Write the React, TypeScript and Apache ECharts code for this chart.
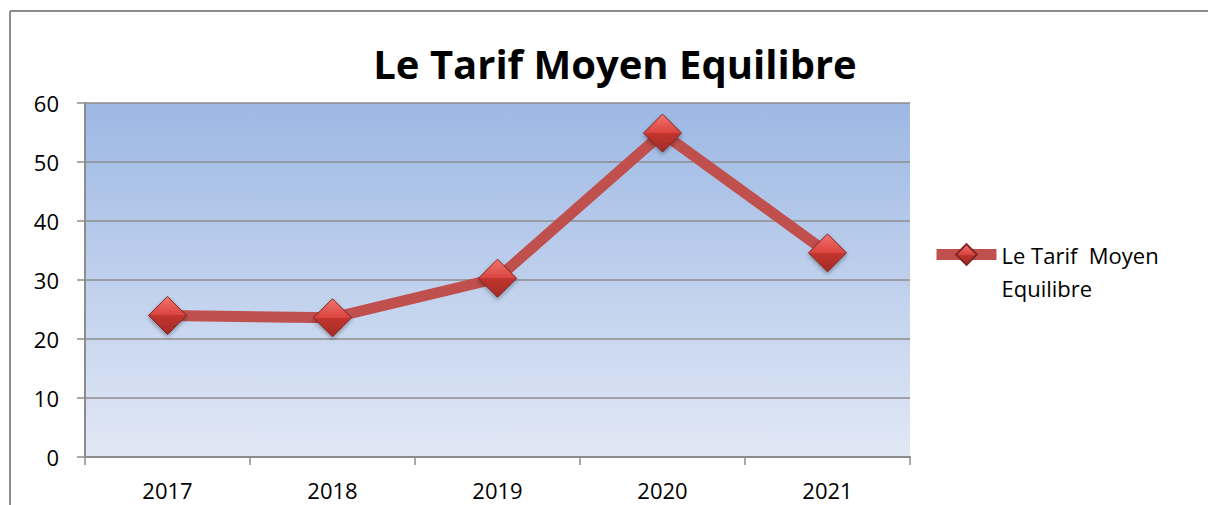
import React, { useEffect, useRef } from "react";
import * as echarts from "echarts";

const categories = ["2017", "2018", "2019", "2020", "2021"];
const values = [24, 23.6, 30.3, 54.9, 34.6];
const seriesName = "Le Tarif  Moyen Equilibre";
const titleText = "Le Tarif Moyen Equilibre";

const FONT = "'Open Sans', 'Liberation Sans', sans-serif";

export default function App() {
  const ref = useRef<HTMLDivElement>(null);
  useEffect(() => {
    document.body.style.margin = "0";
    const chart = echarts.init(ref.current!, null, { renderer: "svg" });
    chart.setOption({
      animation: false,
      backgroundColor: "#ffffff",
      title: {
        text: titleText,
        left: 610,
        top: 38,
        textAlign: "center",
        textStyle: { fontFamily: FONT, fontSize: 40, fontWeight: "bold", color: "#000" },
      },
      graphic: [
        { type: "line", shape: { x1: 10, y1: 11, x2: 1208, y2: 11 }, style: { stroke: "#8c8c8c", lineWidth: 2 } },
        { type: "line", shape: { x1: 10, y1: 11, x2: 10, y2: 505 }, style: { stroke: "#8c8c8c", lineWidth: 2 } },
      ],
      legend: {
        left: 931,
        top: 205,
        padding: 0,
        itemWidth: 60,
        itemHeight: 26,
        itemGap: 0,
        formatter: () => "{p| }\n{a|Le Tarif  Moyen}\n{a|Equilibre}",
        lineStyle: { width: 11, color: "#c0504d" },
        textStyle: {
          fontFamily: FONT,
          fontSize: 22,
          color: "#000",
          rich: {
            p: { fontFamily: FONT, fontSize: 22, lineHeight: 33, height: 33 },
            a: { fontFamily: FONT, fontSize: 22, color: "#000", lineHeight: 33, height: 33 },
          },
        },
        data: [seriesName],
      },
      grid: { left: 85, right: 298, top: 103, bottom: 48, show: true, borderWidth: 0,
        backgroundColor: new echarts.graphic.LinearGradient(0, 0, 0, 1, [
          { offset: 0, color: "#9db8e4" },
          { offset: 1, color: "#e1e8f5" },
        ]),
      },
      xAxis: {
        type: "category",
        data: categories,
        boundaryGap: true,
        axisLine: { show: true, lineStyle: { color: "#8c8c8c", width: 2 } },
        axisTick: { show: true, length: 8, interval: 0, lineStyle: { color: "#8c8c8c", width: 1.5 } },
        axisLabel: { fontFamily: FONT, fontSize: 22, color: "#000", margin: 22 },
      },
      yAxis: {
        type: "value",
        min: 0,
        max: 60,
        interval: 10,
        axisLine: { show: true, lineStyle: { color: "#8c8c8c", width: 2 } },
        axisTick: { show: true, length: 8, lineStyle: { color: "#8c8c8c", width: 1.5 } },
        splitLine: { show: true, lineStyle: { color: "#8c8c8c", width: 1.5 } },
        axisLabel: { fontFamily: FONT, fontSize: 22, color: "#000", margin: 26 },
      },
      series: [
        {
          name: seriesName,
          type: "line",
          data: values,
          symbol: "diamond",
          symbolSize: 38,
          lineStyle: { color: "#c0504d", width: 11 },
          itemStyle: {
            color: new echarts.graphic.LinearGradient(0, 0, 0, 1, [
              { offset: 0, color: "#f4746f" },
              { offset: 0.5, color: "#d9433f" },
              { offset: 0.5, color: "#c2352f" },
              { offset: 1, color: "#a32a26" },
            ]),
            borderColor: "#7f2723",
            borderWidth: 1,
            shadowColor: "rgba(0,0,0,0.35)",
            shadowBlur: 4,
            shadowOffsetY: 2,
          },
        },
      ],
    });
    return () => chart.dispose();
  }, []);
  return <div ref={ref} style={{ width: 1208, height: 505 }} />;
}
